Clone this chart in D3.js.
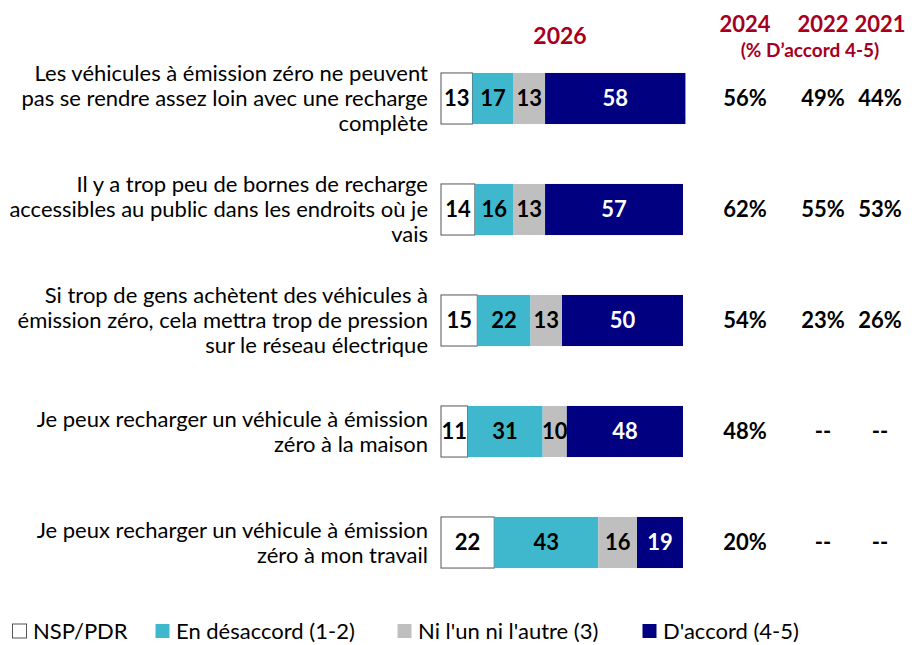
<!DOCTYPE html>
<html>
<head>
<meta charset="utf-8">
<script src="https://cdn.jsdelivr.net/npm/d3@7"></script>
<style>
  body { margin: 0; background: #fff; }
  svg text { font-family: Lato, "Open Sans", sans-serif; }
</style>
</head>
<body>
<div id="chart"></div>
<script>
// statements (each split in lines like the original)
const statements = [
    ["Les véhicules à émission zéro ne peuvent", "pas se rendre assez loin avec une recharge", "complète"],
    ["Il y a trop peu de bornes de recharge", "accessibles au public dans les endroits où je", "vais"],
    ["Si trop de gens achètent des véhicules à", "émission zéro, cela mettra trop de pression", "sur le réseau électrique"],
    ["Je peux recharger un véhicule à émission", "zéro à la maison"],
    ["Je peux recharger un véhicule à émission", "zéro à mon travail"]
];
const seriesNames = ["NSP/PDR", "En désaccord (1-2)", "Ni l'un ni l'autre (3)", "D'accord (4-5)"];
const nsp = [13, 14, 15, 11, 22];
const disagree = [17, 16, 22, 31, 43];
const neither = [13, 13, 13, 10, 16];
const agree = [58, 57, 50, 48, 19];
const years = ["2024", "2022", "2021"];
const agree2024 = ["56%", "62%", "54%", "48%", "20%"];
const agree2022 = ["49%", "55%", "23%", "--", "--"];
const agree2021 = ["44%", "53%", "26%", "--", "--"];

const colors = ["#ffffff", "#3fb8cd", "#bfbfbf", "#000080"];
const textColors = ["#000", "#000", "#000", "#fff"];
const darkRed = "#a50021";

const width = 914, height = 645;
const svg = d3.select("#chart").append("svg")
    .attr("width", width).attr("height", height);

const rows = statements.map((s, i) => ({
    label: s,
    parts: [nsp[i], disagree[i], neither[i], agree[i]],
    prev: [agree2024[i], agree2022[i], agree2021[i]]
}));

const x = d3.scaleLinear().domain([0, 100]).range([441, 683]);
const y = d3.scaleBand().domain(d3.range(rows.length)).range([43, 598]).paddingInner(0.54).paddingOuter(0.27);
const colXs = [745, 823, 880];

// headers
svg.append("text").attr("x", 560).attr("y", 44).attr("text-anchor", "middle")
    .attr("font-size", 23).attr("font-weight", "bold").attr("fill", darkRed).text("2026");
years.forEach((yr, j) => {
    svg.append("text").attr("x", colXs[j]).attr("y", 32).attr("text-anchor", "middle")
        .attr("font-size", 22).attr("font-weight", "bold").attr("fill", darkRed).text(yr);
});
svg.append("text").attr("x", 810).attr("y", 57).attr("text-anchor", "middle")
    .attr("font-size", 19).attr("font-weight", "bold").attr("fill", darkRed).text("(% D’accord 4-5)");

const row = svg.selectAll("g.row").data(rows).enter().append("g").attr("class", "row")
    .attr("transform", (d, i) => `translate(0, ${y(i)})`);

const bh = y.bandwidth();

// labels
row.each(function(d) {
    const g = d3.select(this);
    const n = d.label.length;
    const lh = 25;
    const top = bh / 2 - (n - 1) * lh / 2;
    d.label.forEach((line, k) => {
        g.append("text").attr("x", 428).attr("y", top + k * lh).attr("dy", "0.35em")
            .attr("text-anchor", "end").attr("font-size", 22).attr("fill", "#000").text(line);
    });
});

// stacked segments
row.each(function(d) {
    const g = d3.select(this);
    let acc = 0;
    d.parts.forEach((v, k) => {
        const x0 = x(acc), x1 = x(acc + v);
        g.append("rect").attr("x", x0).attr("y", 0).attr("width", x1 - x0).attr("height", bh)
            .attr("fill", colors[k])
            .attr("stroke", k === 0 ? "#555" : "none").attr("stroke-width", 1);
        g.append("text").attr("x", (x0 + x1) / 2).attr("y", bh / 2).attr("dy", "0.36em")
            .attr("text-anchor", "middle").attr("font-size", 22).attr("font-weight", "bold")
            .attr("fill", textColors[k]).text(v);
        acc += v;
    });
    d.prev.forEach((v, j) => {
        g.append("text").attr("x", colXs[j]).attr("y", bh / 2).attr("dy", "0.36em")
            .attr("text-anchor", "middle").attr("font-size", 22).attr("font-weight", "bold")
            .attr("fill", "#000").text(v);
    });
});

// legend
const legendX = [12, 155, 397, 642];
const lg = svg.selectAll("g.leg").data(seriesNames).enter().append("g").attr("class", "leg")
    .attr("transform", (d, i) => `translate(${legendX[i]}, 631)`);
lg.append("rect").attr("x", 0.5).attr("y", -7).attr("width", 14).attr("height", 14)
    .attr("fill", (d, i) => colors[i]).attr("stroke", (d, i) => i === 0 ? "#555" : "none");
lg.append("text").attr("x", 21).attr("y", 0).attr("dy", "0.35em")
    .attr("font-size", 22).attr("fill", "#000").text(d => d);
</script>
</body>
</html>
